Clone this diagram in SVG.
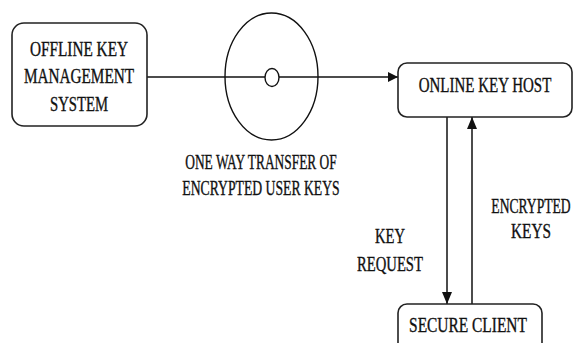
<svg xmlns="http://www.w3.org/2000/svg" width="574" height="343" viewBox="0 0 574 343">
<style>
.box{fill:#fff;stroke:#222;stroke-width:1.6}
.ln{fill:none;stroke:#111;stroke-width:1.5}
text{font-family:"Liberation Serif","Times New Roman",serif;font-size:20px;fill:#111;stroke:#111;stroke-width:0.35;text-anchor:middle}
</style>
<defs>
<marker id="ah" viewBox="0 0 10 10" refX="10" refY="5" markerWidth="10" markerHeight="10" markerUnits="userSpaceOnUse" orient="auto">
<path d="M0,0 L10,5 L0,10 z" fill="#111"/>
</marker>
<marker id="ahv" viewBox="0 0 12 10" refX="12" refY="5" markerWidth="12" markerHeight="10" markerUnits="userSpaceOnUse" orient="auto">
<path d="M0,0 L12,5 L0,10 z" fill="#111"/>
</marker>
</defs>
<rect width="574" height="343" fill="#fff"/>
<g id="connectors">
<line class="ln" x1="147" y1="77" x2="265" y2="77"/>
<line class="ln" x1="279" y1="77" x2="398" y2="77" marker-end="url(#ah)"/>
<line class="ln" x1="447" y1="117" x2="447" y2="304" marker-end="url(#ahv)"/>
<line class="ln" x1="472" y1="304" x2="472" y2="117" marker-end="url(#ahv)"/>
</g>
<g id="offline">
<rect class="box" x="12" y="23" width="135" height="103" rx="12"/>
<text transform="translate(79,56) scale(0.764,1)">OFFLINE KEY</text>
<text transform="translate(79,83) scale(0.762,1)">MANAGEMENT</text>
<text transform="translate(79,111) scale(0.735,1)">SYSTEM</text>
</g>
<g id="transfer">
<ellipse cx="271.5" cy="76.5" rx="46.5" ry="63.5" fill="none" stroke="#111" stroke-width="1.4"/>
<ellipse cx="272" cy="77.5" rx="7" ry="9" fill="#fff" stroke="#111" stroke-width="1.4"/>
<text transform="translate(261,169) scale(0.67,1)">ONE WAY TRANSFER OF</text>
<text transform="translate(261,195) scale(0.684,1)">ENCRYPTED USER KEYS</text>
</g>
<g id="online">
<rect class="box" x="398" y="63" width="174" height="54" rx="9"/>
<text transform="translate(485,92) scale(0.75,1)">ONLINE KEY HOST</text>
</g>
<g id="request-label">
<text transform="translate(390,243) scale(0.73,1)">KEY</text>
<text transform="translate(390,271) scale(0.733,1)">REQUEST</text>
</g>
<g id="encrypted-label">
<text transform="translate(531,213) scale(0.68,1)">ENCRYPTED</text>
<text transform="translate(531,238) scale(0.766,1)">KEYS</text>
</g>
<g id="client">
<rect class="box" x="398" y="304" width="144" height="60" rx="9"/>
<text transform="translate(468,332) scale(0.772,1)">SECURE CLIENT</text>
</g>
</svg>
